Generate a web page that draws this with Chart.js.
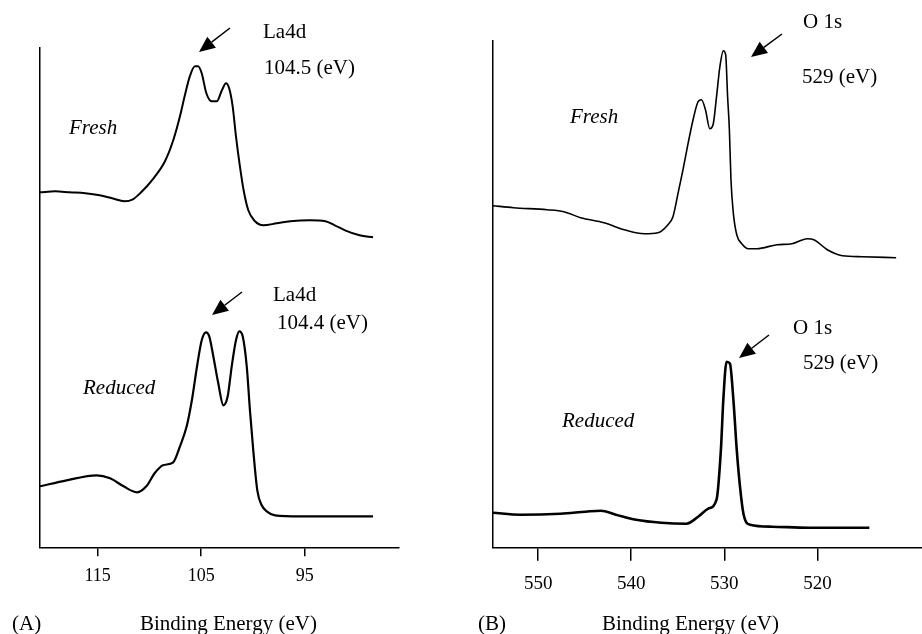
<!DOCTYPE html>
<html>
<head>
<meta charset="utf-8">
<script src="https://cdn.jsdelivr.net/npm/chart.js@4.4.1/dist/chart.umd.min.js"></script>
<style>
    html, body { margin: 0; padding: 0; background: #fff; overflow: hidden; }
    #wrap { position: relative; width: 922px; height: 634px; overflow: hidden; }
    #chartA { position: absolute; left: 0; top: 0; }
    #chartB { position: absolute; left: 461px; top: 0; }
</style>
</head>
<body>
<div id="wrap">
    <canvas id="chartA" width="461" height="634"></canvas>
    <canvas id="chartB" width="464" height="634"></canvas>
</div>
<script>
// La4d spectra (panel A), binding energy in eV, counts in arbitrary units
const laFreshEnergy = [120.57, 119.1, 117.7, 116.2, 114.8, 113.6, 112.4, 111.6, 110.9, 109.6, 108.5, 107.7, 107.05, 106.6, 106.1, 105.6, 105.3, 104.95, 104.5, 104.0, 103.5, 103.0, 102.6, 102.3, 101.96, 101.64, 101.3, 100.9, 100.45, 99.8, 99.0, 97.7, 96.4, 94.5, 93.0, 92.1, 91.1, 89.7, 88.4];
const laFreshCounts = [355, 356, 355, 354, 352, 349, 346, 348, 354, 369, 386, 407, 431, 451, 471, 481, 481, 474, 454, 446, 446, 457, 464, 459, 441, 411, 384, 357, 337, 326, 322, 324, 326, 327, 326, 322, 317, 312, 310];
const laReducedEnergy = [120.57, 118.0, 115.1, 113.8, 112.5, 111.2, 110.3, 109.5, 108.7, 107.7, 107.05, 106.4, 105.9, 105.4, 104.95, 104.54, 104.22, 103.83, 103.35, 102.86, 102.44, 102.05, 101.64, 101.32, 100.99, 100.6, 100.29, 99.97, 99.58, 99.15, 98.67, 97.87, 95.45, 91.6, 88.4];
const laReducedCounts = [61, 67, 72, 69, 61, 55, 61, 74, 82, 85, 101, 121, 147, 181, 207, 215, 211, 191, 164, 142, 151, 181, 207, 216, 211, 181, 137, 97, 57, 42, 36, 32, 31, 31, 31];

// O 1s spectra (panel B)
const oFreshEnergy = [554.88, 552.65, 549.04, 547.24, 545.44, 542.92, 540.75, 538.59, 537.14, 536.06, 535.52, 534.98, 534.44, 533.9, 533.36, 532.82, 532.46, 532.03, 531.56, 531.19, 530.84, 530.48, 530.11, 529.86, 529.65, 529.46, 529.29, 529.03, 528.67, 528.13, 527.41, 526.51, 524.35, 522.73, 521.1, 520.38, 518.94, 517.32, 515.16, 511.55];
const oFreshCounts = [342, 340, 338, 336, 330, 325, 318, 314, 315, 323, 331, 354, 378, 404, 428, 446, 448, 438, 419, 424, 451, 481, 497, 493, 451, 418, 368, 334, 313, 304, 299, 299, 303, 304, 309, 308, 298, 292, 291, 290];
const oReducedEnergy = [554.88, 551.92, 547.6, 544.9, 543.27, 541.65, 539.49, 536.78, 534.08, 532.82, 531.73, 530.84, 530.37, 530.11, 529.76, 529.4, 529.03, 528.67, 528.32, 527.95, 527.24, 524.89, 520.92, 514.43];
const oReducedCounts = [35, 33, 34, 36, 37, 33, 28, 25, 24, 31, 39, 48, 98, 148, 186, 184, 148, 98, 61, 34, 23, 21, 20, 20];

// tick labels
const ticksLa = [115, 105, 95];
const ticksO = [550, 540, 530, 520];

const SERIF = '"Liberation Serif", "Times New Roman", serif';

function toPoints(energy, counts) {
    return energy.map((e, i) => ({ x: e, y: counts[i] }));
}

function drawArrow(ctx, x1, y1, x2, y2) {
    const ang = Math.atan2(y2 - y1, x2 - x1);
    const len = 16, half = 7;
    const bx = x2 - len * Math.cos(ang), by = y2 - len * Math.sin(ang);
    ctx.lineWidth = 1.5;
    ctx.beginPath();
    ctx.moveTo(x1, y1);
    ctx.lineTo(bx, by);
    ctx.stroke();
    ctx.beginPath();
    ctx.moveTo(x2, y2);
    ctx.lineTo(bx + half * Math.sin(ang), by - half * Math.cos(ang));
    ctx.lineTo(bx - half * Math.sin(ang), by + half * Math.cos(ang));
    ctx.closePath();
    ctx.fill();
}

// texts and arrows, in page pixels
const annotate = {
    id: 'annotate',
    afterDraw(chart, args, opts) {
        const ctx = chart.ctx;
        const off = opts.offset || 0;
        ctx.save();
        ctx.fillStyle = '#000';
        ctx.strokeStyle = '#000';
        ctx.textAlign = 'left';
        ctx.textBaseline = 'middle';
        (opts.labels || []).forEach(l => {
            ctx.font = (l.italic ? 'italic ' : '') + l.size + 'px ' + SERIF;
            ctx.fillText(l.text, l.x - off, l.y);
        });
        (opts.arrows || []).forEach(a => drawArrow(ctx, a[0] - off, a[1], a[2] - off, a[3]));
        ctx.restore();
    }
};

function makeChart(canvas, cfg) {
    return new Chart(canvas.getContext('2d'), {
        type: 'line',
        data: {
            datasets: cfg.series.map(s => ({
                data: toPoints(s.energy, s.counts),
                borderColor: '#000',
                borderWidth: s.width,
                pointRadius: 0,
                cubicInterpolationMode: 'monotone',
                fill: false
            }))
        },
        options: {
            responsive: false,
            animation: false,
            devicePixelRatio: 1,
            layout: { padding: cfg.padding },
            plugins: {
                legend: { display: false },
                tooltip: { enabled: false },
                annotate: cfg.notes
            },
            scales: {
                x: {
                    type: 'linear',
                    reverse: true,
                    min: cfg.xMin,
                    max: cfg.xMax,
                    afterBuildTicks: axis => { axis.ticks = cfg.ticks.map(v => ({ value: v })); },
                    afterFit: axis => { axis.height = cfg.axisHeight; },
                    grid: { drawOnChartArea: false, drawTicks: true, tickLength: cfg.tickLength, color: '#000', lineWidth: 1.5 },
                    border: { display: true, color: '#000', width: 1.5 },
                    ticks: {
                        color: '#000',
                        font: { family: SERIF, size: cfg.tickSize },
                        padding: cfg.tickPad,
                        maxRotation: 0,
                        autoSkip: false
                    }
                },
                y: {
                    min: 0,
                    max: cfg.yMax,
                    afterFit: axis => { axis.width = 0; },
                    grid: { display: false, drawTicks: false },
                    border: { display: true, color: '#000', width: 1.5 },
                    ticks: { display: false }
                }
            }
        },
        plugins: [annotate]
    });
}

makeChart(document.getElementById('chartA'), {
    series: [
        { energy: laFreshEnergy, counts: laFreshCounts, width: 2 },
        { energy: laReducedEnergy, counts: laReducedCounts, width: 2.2 }
    ],
    padding: { left: 40, top: 47.3, right: 62.7, bottom: 0 },
    xMin: 85.96, xMax: 120.57, yMax: 500,
    ticks: ticksLa, axisHeight: 86.7, tickLength: 9, tickSize: 18, tickPad: 9,
    notes: {
        offset: 0,
        labels: [
            { text: 'La4d', x: 263, y: 32, size: 21 },
            { text: '104.5 (eV)', x: 264, y: 68, size: 21 },
            { text: 'Fresh', x: 69, y: 128, size: 21, italic: true },
            { text: 'La4d', x: 273, y: 295, size: 21 },
            { text: '104.4 (eV)', x: 277, y: 323, size: 21 },
            { text: 'Reduced', x: 83, y: 388, size: 21, italic: true },
            { text: '(A)', x: 12, y: 624, size: 21 },
            { text: 'Binding Energy (eV)', x: 140, y: 624, size: 21 }
        ],
        arrows: [[230, 28, 199, 52], [242, 292, 212, 315]]
    }
});

makeChart(document.getElementById('chartB'), {
    series: [
        { energy: oFreshEnergy, counts: oFreshCounts, width: 1.6 },
        { energy: oReducedEnergy, counts: oReducedCounts, width: 2.6 }
    ],
    padding: { left: 31.7, top: 40.7, right: 0, bottom: 0 },
    xMin: 508.45, xMax: 554.88, yMax: 507,
    ticks: ticksO, axisHeight: 86.3, tickLength: 13, tickSize: 19, tickPad: 12,
    notes: {
        offset: 461,
        labels: [
            { text: 'O 1s', x: 803, y: 22, size: 21 },
            { text: '529 (eV)', x: 802, y: 77, size: 21 },
            { text: 'Fresh', x: 570, y: 117, size: 21, italic: true },
            { text: 'O 1s', x: 793, y: 328, size: 21 },
            { text: '529 (eV)', x: 803, y: 363, size: 21 },
            { text: 'Reduced', x: 562, y: 421, size: 21, italic: true },
            { text: '(B)', x: 478, y: 624, size: 21 },
            { text: 'Binding Energy (eV)', x: 602, y: 624, size: 21 }
        ],
        arrows: [[782, 34, 751, 57], [769, 335, 739, 358]]
    }
});
</script>
</body>
</html>
